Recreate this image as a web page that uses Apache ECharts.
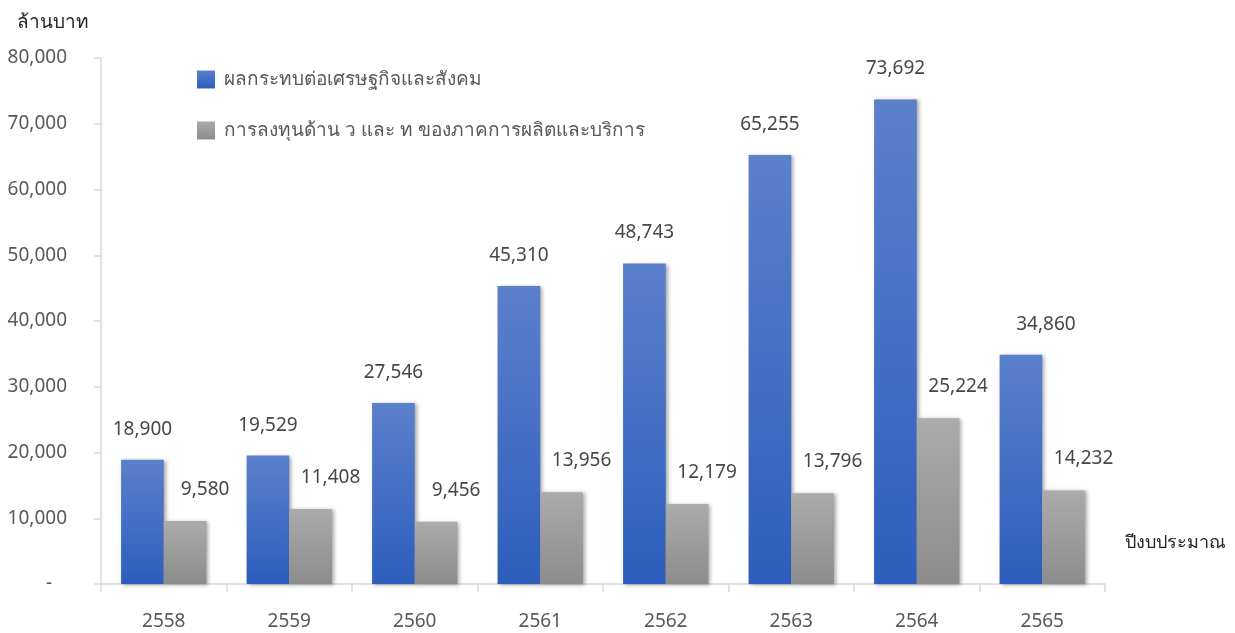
<!DOCTYPE html>
<html>
<head>
<meta charset="utf-8">
<script src="https://cdn.jsdelivr.net/npm/echarts@6/dist/echarts.min.js"></script>
<style>
  html, body { margin: 0; padding: 0; background: #fff; }
  #chart { width: 1235px; height: 633px; }
</style>
</head>
<body>
<div id="chart"></div>
<script>
// Fiscal years (Buddhist Era)
const years = ['2558', '2559', '2560', '2561', '2562', '2563', '2564', '2565'];
// Economic and social impact (million baht)
const impactValues = [18900, 19529, 27546, 45310, 48743, 65255, 73692, 34860];
// Private-sector R&D investment (million baht)
const investValues = [9580, 11408, 9456, 13956, 12179, 13796, 25224, 14232];
const seriesNames = ['ผลกระทบต่อเศรษฐกิจและสังคม', 'การลงทุนด้าน ว และ ท ของภาคการผลิตและบริการ'];
const yUnit = 'ล้านบาท';
const xUnit = 'ปีงบประมาณ';

const FONT = 'Tahoma, "Noto Sans", "DejaVu Sans", sans-serif';
const FS = 19;
const fmt = v => v === 0 ? '-   ' : v.toLocaleString('en-US');

const blueFill = new echarts.graphic.LinearGradient(0, 0, 0, 1, [
  { offset: 0, color: '#5b80cc' },
  { offset: 1, color: '#2d5ebd' }
]);
const grayFill = new echarts.graphic.LinearGradient(0, 0, 0, 1, [
  { offset: 0, color: '#ababab' },
  { offset: 1, color: '#8c8c8c' }
]);
const barShadow = {
  shadowBlur: 4,
  shadowColor: 'rgba(0,0,0,0.35)',
  shadowOffsetX: 2,
  shadowOffsetY: 1
};

// the last impact label sits a little to the right of its bar
const impactData = impactValues.map((v, i) =>
  i === impactValues.length - 1 ? { value: v, label: { offset: [25, 0] } } : v
);

const chart = echarts.init(document.getElementById('chart'));
chart.setOption({
  animation: false,
  textStyle: { fontFamily: FONT },
  grid: { left: 101, right: 130, top: 58, bottom: 49, containLabel: false },
  legend: {
    orient: 'vertical',
    left: 197,
    top: 70,
    padding: 0,
    itemWidth: 18,
    itemHeight: 18,
    itemGap: 32,
    itemTextGap: 9,
    icon: 'rect',
    textStyle: { fontSize: FS, color: '#595959', fontFamily: FONT, padding: [0, 0, 0, 4] },
    data: seriesNames
  },
  graphic: [
    {
      type: 'text', left: 17, top: 13,
      style: { text: yUnit, fontSize: FS, fill: '#262626', fontFamily: FONT }
    },
    {
      type: 'text', left: 1125, top: 534,
      style: { text: xUnit, fontSize: 18, fill: '#262626', fontFamily: FONT }
    }
  ],
  xAxis: {
    type: 'category',
    data: years,
    axisLine: { lineStyle: { color: '#d9d9d9', width: 1.5 } },
    axisTick: { show: true, length: 8, alignWithLabel: false, lineStyle: { color: '#d9d9d9', width: 1.5 } },
    axisLabel: { fontSize: FS, color: '#595959', margin: 28, fontFamily: FONT },
    splitLine: { show: false }
  },
  yAxis: {
    type: 'value',
    min: 0,
    max: 80000,
    interval: 10000,
    axisLine: { show: true, lineStyle: { color: '#d9d9d9', width: 1.5 } },
    axisTick: { show: true, length: 7, lineStyle: { color: '#d9d9d9', width: 1.5 } },
    axisLabel: { fontSize: FS, color: '#595959', margin: 34, fontFamily: FONT, formatter: fmt },
    splitLine: { show: false }
  },
  series: [
    {
      name: seriesNames[0],
      type: 'bar',
      data: impactData,
      barWidth: '34%',
      barGap: '0%',
      itemStyle: Object.assign({ color: blueFill }, barShadow),
      label: {
        show: true, position: 'top', distance: 21,
        fontSize: FS, color: '#474747', fontFamily: FONT,
        formatter: p => fmt(p.value)
      }
    },
    {
      name: seriesNames[1],
      type: 'bar',
      data: investValues,
      barWidth: '34%',
      barGap: '0%',
      itemStyle: Object.assign({ color: grayFill }, barShadow),
      label: {
        show: true, position: 'top', distance: 22, offset: [20, 0],
        fontSize: FS, color: '#474747', fontFamily: FONT,
        formatter: p => fmt(p.value)
      }
    }
  ]
});
</script>
</body>
</html>
